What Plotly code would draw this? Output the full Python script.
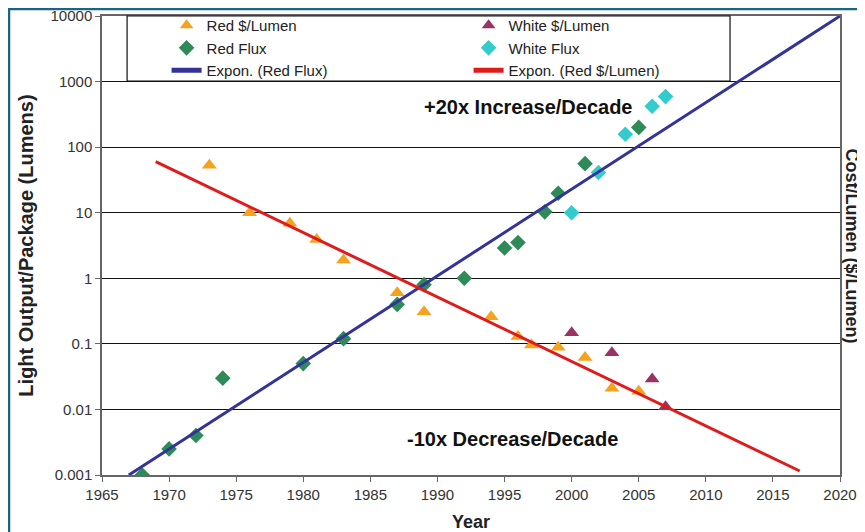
import plotly.graph_objects as go

# ---- data ----
red_cost_years = [1973, 1976, 1979, 1981, 1983, 1987, 1989, 1994, 1996, 1997, 1999, 2001, 2003, 2005]
red_cost_vals = [53, 10, 6.9, 3.9, 1.9, 0.6, 0.31, 0.26, 0.13, 0.096, 0.089, 0.062, 0.021, 0.019]

white_cost_years = [2000, 2003, 2006, 2007]
white_cost_vals = [0.148, 0.073, 0.029, 0.011]

red_flux_years = [1968, 1970, 1972, 1974, 1980, 1983, 1987, 1989, 1992, 1995, 1996, 1998, 1999, 2001, 2005]
red_flux_vals = [0.001, 0.0025, 0.004, 0.03, 0.05, 0.12, 0.4, 0.8, 1.0, 2.9, 3.5, 10.3, 19.8, 56, 200]

white_flux_years = [2000, 2002, 2004, 2006, 2007]
white_flux_vals = [10, 41, 157, 420, 590]

trend_flux_years = [1967, 2020]
trend_flux_vals = [0.001, 10000]

trend_cost_years = [1969, 2017]
trend_cost_vals = [60, 0.00115]

y_tick_vals = [0.001, 0.01, 0.1, 1, 10, 100, 1000, 10000]
y_tick_text = ["0.001", "0.01", "0.1", "1", "10", "100", "1000", "10000"]
x_tick_vals = [1965, 1970, 1975, 1980, 1985, 1990, 1995, 2000, 2005, 2010, 2015, 2020]

FONT = "Liberation Sans, Arial, sans-serif"

fig = go.Figure()

fig.add_trace(go.Scatter(x=red_cost_years, y=red_cost_vals, mode="markers", name="Red $/Lumen",
                         marker=dict(symbol="triangle-up", size=13, color="#F5A21E")))
fig.add_trace(go.Scatter(x=white_cost_years, y=white_cost_vals, mode="markers", name="White $/Lumen",
                         marker=dict(symbol="triangle-up", size=13, color="#993366")))
fig.add_trace(go.Scatter(x=red_flux_years, y=red_flux_vals, mode="markers", name="Red Flux",
                         marker=dict(symbol="diamond", size=12, color="#2E8B57")))
fig.add_trace(go.Scatter(x=white_flux_years, y=white_flux_vals, mode="markers", name="White Flux",
                         marker=dict(symbol="diamond", size=12, color="#33CCCC")))
fig.add_trace(go.Scatter(x=trend_flux_years, y=trend_flux_vals, mode="lines", name="Expon. (Red Flux)",
                         line=dict(color="#333399", width=3)))
fig.add_trace(go.Scatter(x=trend_cost_years, y=trend_cost_vals, mode="lines", name="Expon. (Red $/Lumen)",
                         line=dict(color="#E01B1B", width=3)))

# the page body adds an 8px margin, so the figure is sized to fit inside the window
fig.update_layout(
    width=857, height=524,
    margin=dict(l=94, r=25, t=8, b=57, autoexpand=False),
    paper_bgcolor="white", plot_bgcolor="white",
    font=dict(family=FONT, size=15, color="#333333"),
    showlegend=True,
    legend=dict(orientation="h", x=0.0875, y=1.015, xanchor="left", yanchor="top",
                entrywidth=257, entrywidthmode="pixels",
                bgcolor="rgba(0,0,0,0)", borderwidth=0,
                font=dict(family=FONT, size=15, color="#222222"),
                tracegroupgap=0, itemsizing="constant"),
    xaxis=dict(range=[1965, 2020], tickvals=x_tick_vals, showgrid=False, zeroline=False,
               automargin=False, ticklabeloverflow="allow",
               showline=True, linecolor="#666666", linewidth=1.5, mirror=True,
               ticks="outside", ticklen=5, tickcolor="#666666",
               tickfont=dict(family=FONT, size=15, color="#333333"),
               title=dict(text="<b>Year</b>", font=dict(family=FONT, size=18, color="#222222"), standoff=16)),
    yaxis=dict(type="log", range=[-3, 4], tickvals=y_tick_vals, ticktext=y_tick_text,
               automargin=False, ticklabeloverflow="allow",
               showgrid=True, gridcolor="#111111", gridwidth=1, zeroline=False,
               showline=True, linecolor="#666666", linewidth=1.5, mirror=True,
               ticks="outside", ticklen=5, tickcolor="#666666",
               tickfont=dict(family=FONT, size=15, color="#333333"),
               title=dict(text="<b>Light Output/Package (Lumens)</b>",
                          font=dict(family=FONT, size=20, color="#222222"), standoff=12)),
)

# legend frame
fig.add_shape(type="rect", xref="paper", yref="paper", x0=0.034, x1=0.851, y0=0.858, y1=1.0,
              line=dict(color="#111111", width=1.2), fillcolor="rgba(0,0,0,0)", layer="above")

# outer teal frame
fig.add_shape(type="rect", xref="paper", yref="paper", x0=-0.126, x1=1.06, y0=-0.2, y1=1.0155,
              line=dict(color="#1B6584", width=2.5), fillcolor="rgba(0,0,0,0)", layer="below")

fig.add_annotation(text="<b>+20x Increase/Decade</b>", xref="paper", yref="paper", x=0.578, y=0.802,
                   xanchor="center", yanchor="middle",
                   showarrow=False, font=dict(family=FONT, size=20, color="#111111"))
fig.add_annotation(text="<b>-10x Decrease/Decade</b>", xref="paper", yref="paper", x=0.556, y=0.078,
                   xanchor="center", yanchor="middle",
                   showarrow=False, font=dict(family=FONT, size=20, color="#111111"))
fig.add_annotation(text="<b>Cost/Lumen ($/Lumen)</b>", xref="paper", yref="paper", x=1.0163, y=0.5,
                   xanchor="center", yanchor="middle",
                   textangle=90, showarrow=False, font=dict(family=FONT, size=18, color="#222222"))

fig.write_html("out.html")
